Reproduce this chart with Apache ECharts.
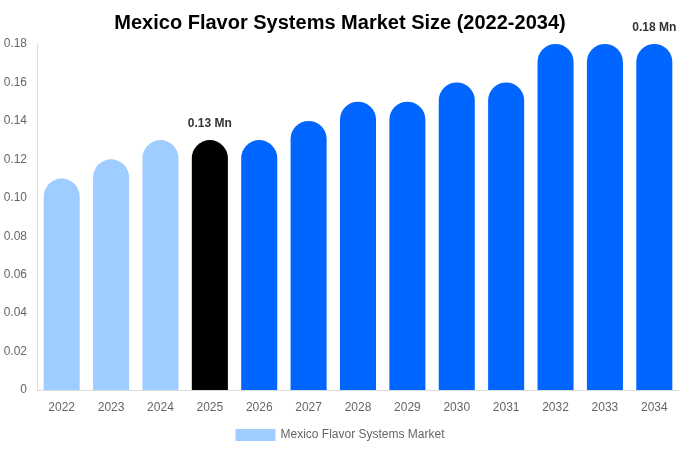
<!DOCTYPE html>
<html>
<head>
<meta charset="utf-8">
<script src="https://cdn.jsdelivr.net/npm/echarts@6/dist/echarts.min.js"></script>
<style>html,body{margin:0;padding:0;background:#fff}#c{width:680px;height:450px}</style>
</head>
<body>
<div id="c"></div>
<script>
var categories = ['2022','2023','2024','2025','2026','2027','2028','2029','2030','2031','2032','2033','2034'];
var values = [0.11,0.12,0.13,0.13,0.13,0.14,0.15,0.15,0.16,0.16,0.18,0.18,0.18];
var yTicks = [0,0.02,0.04,0.06,0.08,0.10,0.12,0.14,0.16,0.18];
var labeled = ['2025','2034'];
var colorPast = '#a0cdff', colorNow = '#000000', colorFuture = '#0066ff';

var chart = echarts.init(document.getElementById('c'));
var data = values.map(function(v,i){
  var y = +categories[i];
  var col = y < 2025 ? colorPast : (y === 2025 ? colorNow : colorFuture);
  return {
    value: v,
    itemStyle: {color: col},
    label: {show: labeled.indexOf(categories[i]) >= 0}
  };
});
chart.setOption({
  animation: false,
  title: {text: 'Mexico Flavor Systems Market Size (2022-2034)', left: 'center', top: 8,
    textStyle: {fontFamily: 'Liberation Sans', fontSize: 20, fontWeight: 'bold', color: '#000'}},
  legend: {bottom: 4, left: 'center', itemWidth: 40, itemHeight: 12, icon: 'rect',
    data: [{name: 'Mexico Flavor Systems Market', itemStyle: {color: colorPast}}],
    textStyle: {fontFamily: 'Liberation Sans', fontSize: 12, color: '#666'}},
  grid: {left: 37, right: 1, top: 44, bottom: 60},
  xAxis: {type: 'category', data: categories,
    axisLine: {lineStyle: {color: '#ddd'}}, axisTick: {show: false},
    axisLabel: {color: '#666', fontFamily: 'Liberation Sans', fontSize: 12, margin: 12}},
  yAxis: {type: 'value', min: 0, max: 0.18, interval: 0.02,
    axisLine: {show: true, lineStyle: {color: '#ddd'}}, axisTick: {show: false},
    splitLine: {show: false},
    axisLabel: {color: '#666', fontFamily: 'Liberation Sans', fontSize: 12, margin: 10,
      formatter: function(v){ return v===0?'0':v.toFixed(2);} }},
  series: [{
    name: 'Mexico Flavor Systems Market', type: 'bar', data: data,
    barCategoryGap: '27%',
    itemStyle: {borderRadius: [18,18,0,0]},
    label: {position: 'top', distance: 10, formatter: function(p){return p.value.toFixed(2)+' Mn';},
      fontFamily: 'Liberation Sans', fontSize: 12, fontWeight: 'bold', color: '#333'}
  }]
});
</script>
</body>
</html>
